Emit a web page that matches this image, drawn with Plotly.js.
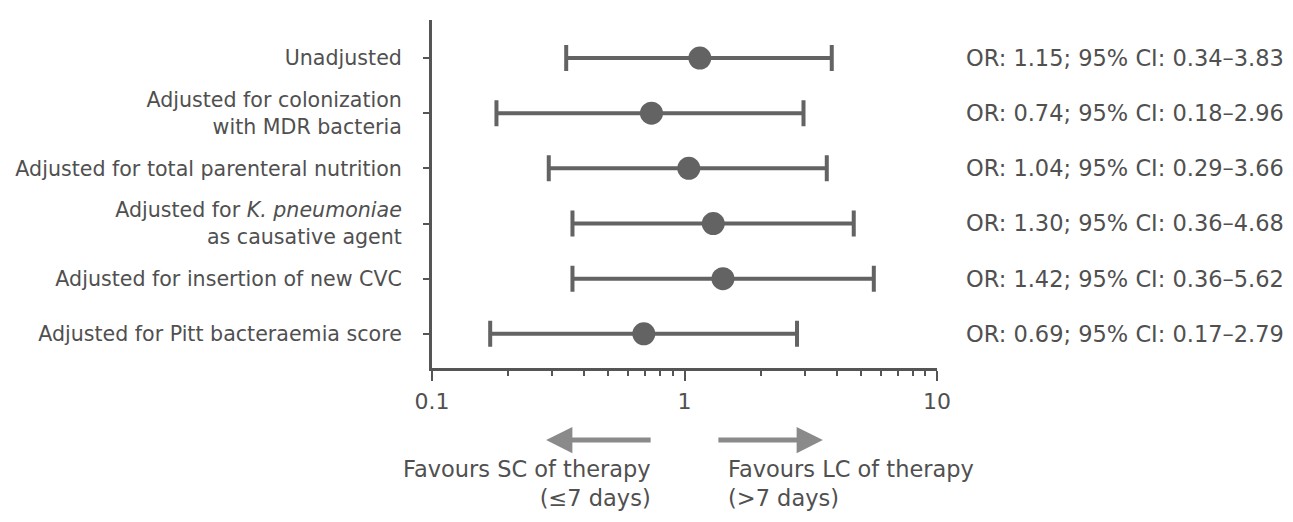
<!DOCTYPE html>
<html>
<head>
<meta charset="utf-8">
<script src="https://cdn.plot.ly/plotly-3.0.1.min.js"></script>
<style>html,body{margin:0;padding:0;background:#fff;}#chart{width:1293px;height:522px;}</style>
</head>
<body>
<div id="chart"></div>
<script>
const labels = [
  "Unadjusted",
  "Adjusted for colonization<br>with MDR bacteria",
  "Adjusted for total parenteral nutrition",
  "Adjusted for <i>K. pneumoniae</i><br>as causative agent",
  "Adjusted for insertion of new CVC",
  "Adjusted for Pitt bacteraemia score"
];
const oddsRatio = [1.15, 0.74, 1.04, 1.30, 1.42, 0.69];
const ciLower = [0.34, 0.18, 0.29, 0.36, 0.36, 0.17];
const ciUpper = [3.83, 2.96, 3.66, 4.68, 5.62, 2.79];
const xTickVals = [0.1, 1, 10];
const xTickText = ["0.1", "1", "10"];
const refValue = 1;
const leftNote = "Favours SC of therapy<br>(≤7 days)";
const rightNote = "Favours LC of therapy<br>(>7 days)";

const rows = labels.map((_, i) => i);
const orTexts = oddsRatio.map((v, i) =>
  `OR: ${v.toFixed(2)}; 95% CI: ${ciLower[i].toFixed(2)}–${ciUpper[i].toFixed(2)}`);
const textColor = "#505050";
const markColor = "#636363";
const FONT = "DejaVu Sans, sans-serif";
const yRange = [5.62, -0.69];

const trace = {
  type: "scatter",
  mode: "markers",
  x: oddsRatio,
  y: rows,
  marker: {size: 23, color: markColor},
  error_x: {
    type: "data",
    symmetric: false,
    array: oddsRatio.map((v, i) => ciUpper[i] - v),
    arrayminus: oddsRatio.map((v, i) => v - ciLower[i]),
    color: markColor,
    thickness: 4,
    width: 13
  },
  hoverinfo: "skip",
  showlegend: false
};

// invisible companion trace that carries the right-hand OR labels axis
const textTrace = {
  type: "scatter", mode: "markers",
  x: oddsRatio, y: rows, yaxis: "y2",
  marker: {size: 1, opacity: 0},
  hoverinfo: "skip", showlegend: false
};

const annotations = [];
// arrows
annotations.push({
  xref: "paper", yref: "paper", x: 0.226, y: -0.207,
  axref: "pixel", ayref: "pixel", ax: 106, ay: 0,
  showarrow: true, arrowhead: 2, arrowsize: 1.05, arrowwidth: 5, arrowcolor: "#8a8a8a", text: ""
});
annotations.push({
  xref: "paper", yref: "paper", x: 0.774, y: -0.207,
  axref: "pixel", ayref: "pixel", ax: -106, ay: 0,
  showarrow: true, arrowhead: 2, arrowsize: 1.05, arrowwidth: 5, arrowcolor: "#8a8a8a", text: ""
});
annotations.push({
  xref: "paper", yref: "paper", x: 0.438, y: -0.332,
  xanchor: "right", yanchor: "middle", align: "right", showarrow: false,
  text: leftNote, font: {family: FONT, size: 22.5, color: textColor}
});
annotations.push({
  xref: "paper", yref: "paper", x: 0.583, y: -0.332,
  xanchor: "left", yanchor: "middle", align: "left", showarrow: false,
  text: rightNote, font: {family: FONT, size: 22.5, color: textColor}
});

const layout = {
  width: 1293, height: 522,
  margin: {l: 432, r: 356, t: 20, b: 154},
  paper_bgcolor: "#fff", plot_bgcolor: "#fff",
  font: {family: FONT, size: 20, color: textColor},
  showlegend: false,
  xaxis: {
    type: "log",
    range: [Math.log10(0.1), Math.log10(10)],
    tickvals: xTickVals, ticktext: xTickText,
    ticks: "outside", ticklen: 10, tickwidth: 2, tickcolor: "#555",
    ticklabelstandoff: 2,
    minor: {ticks: "outside", ticklen: 5, tickwidth: 2, tickcolor: "#555", dtick: "D1"},
    showline: true, linecolor: "#555", linewidth: 3,
    showgrid: false, zeroline: false,
    tickfont: {family: FONT, size: 22, color: textColor}
  },
  yaxis: {
    range: yRange,
    tickvals: rows, ticktext: labels,
    ticks: "outside", ticklen: 6, tickwidth: 2, tickcolor: "#555",
    ticklabelstandoff: 17,
    showline: true, linecolor: "#555", linewidth: 3,
    showgrid: false, zeroline: false,
    tickfont: {family: FONT, size: 20.6, color: textColor}
  },
  yaxis2: {
    overlaying: "y", side: "right", anchor: "x",
    range: yRange,
    tickvals: rows, ticktext: orTexts,
    ticks: "", showline: false, showgrid: false, zeroline: false,
    ticklabelstandoff: 28,
    tickfont: {family: FONT, size: 22.5, color: textColor}
  },
  shapes: [{
    type: "line", xref: "x", yref: "paper",
    x0: Math.log10(refValue), x1: Math.log10(refValue), y0: 0, y1: 1.025,
    line: {color: "#666", width: 2, dash: "dot"}
  }],
  annotations: annotations
};

Plotly.newPlot("chart", [trace, textTrace], layout, {displayModeBar: false, staticPlot: true});
</script>
</body>
</html>
